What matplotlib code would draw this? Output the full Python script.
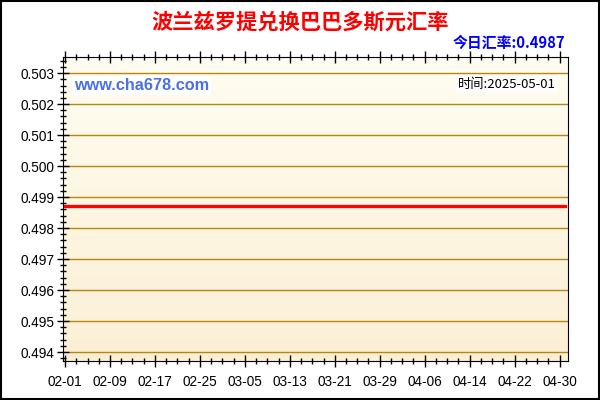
import numpy as np
import matplotlib
matplotlib.use("Agg")
import matplotlib.pyplot as plt
import matplotlib.dates as mdates
from matplotlib.ticker import MultipleLocator
from matplotlib.colors import LinearSegmentedColormap
import datetime as dt

plt.rcParams['font.family'] = ['Liberation Sans', 'Noto Sans CJK SC', 'DejaVu Sans']

# data
dates = ['2025-02-01', '2025-05-01']
rates = [0.4987, 0.4987]
tick_dates = ['2025-02-01', '2025-02-09', '2025-02-17', '2025-02-25', '2025-03-05', '2025-03-13',
              '2025-03-21', '2025-03-29', '2025-04-06', '2025-04-14', '2025-04-22', '2025-04-30']
y_ticks = [0.494, 0.495, 0.496, 0.497, 0.498, 0.499, 0.500, 0.501, 0.502, 0.503]
title = '波兰兹罗提兑换巴巴多斯元汇率'
today_rate = '今日汇率:0.4987'
stamp = '时间:2025-05-01'

to_d = lambda s: dt.datetime.strptime(s, '%Y-%m-%d')
x = [to_d(s) for s in dates]

fig = plt.figure(figsize=(6, 4), dpi=100)
ax = fig.add_axes([63/600, 1 - 361/400, (568 - 63)/600, (361 - 57)/400])

x0 = mdates.date2num(to_d('2025-02-01')) - 0.36
x1 = mdates.date2num(to_d('2025-05-01')) + 0.5
y0, y1 = 0.49371, 0.50352

# background gradient, light at the top, warmer at the bottom
grad = np.linspace(0, 1, 256).reshape(-1, 1)
cmap = LinearSegmentedColormap.from_list('bg', ['#fffdf2', '#fcefd5'])
ax.imshow(grad, extent=[x0, x1, y0, y1], origin='upper', aspect='auto', cmap=cmap, zorder=0)

for yv in y_ticks:
    ax.axhline(yv, color='#b8860b', lw=1, zorder=1)

ax.plot(x, rates, color='#ff0000', lw=2.4, zorder=3)

ax.set_xlim(x0, x1)
ax.set_ylim(y0, y1)

ax.set_yticks(y_ticks)
ax.set_yticklabels([f'{v:.3f}' for v in y_ticks])
ax.yaxis.set_minor_locator(MultipleLocator(0.0002))
ax.set_xticks([mdates.date2num(to_d(s)) for s in tick_dates])
ax.set_xticklabels([s[5:] for s in tick_dates])
ax.xaxis.set_minor_locator(MultipleLocator(2))

ax.tick_params(axis='both', which='major', direction='inout', length=8, width=1,
               labelsize=9.8, colors='black', top=True)
ax.tick_params(axis='both', which='minor', direction='inout', length=5, width=1, top=True)
ax.tick_params(axis='y', pad=2)
ax.tick_params(axis='x', pad=6)
for sp in ax.spines.values():
    sp.set_color('black')

fig.text(0.5, 1 - 22/400, title, color='#ff0000', fontsize=15.3, fontweight='bold',
         ha='center', va='center', family=['Noto Sans CJK SC', 'DejaVu Sans'])
fig.text(565/600, 1 - 43/400, today_rate, color='#0000ff', fontsize=10.7, fontweight='bold',
         ha='right', va='center', family=['Noto Sans CJK SC', 'DejaVu Sans'])

ax.text(0.022, 0.905, 'www.cha678.com', transform=ax.transAxes, color='#4a6fe8',
        fontsize=11.7, fontweight='bold', ha='left', va='center', zorder=5,
        bbox=dict(facecolor='white', edgecolor='none', pad=1.5))
ax.text(0.975, 0.91, stamp, transform=ax.transAxes, color='black', fontsize=9.5,
        ha='right', va='center', zorder=5, family=['Noto Sans CJK SC', 'DejaVu Sans'],
        bbox=dict(facecolor='white', edgecolor='none', pad=1))

fig.patches.append(plt.Rectangle((0.002, 0.003), 0.996, 0.994, transform=fig.transFigure,
                                 fill=False, edgecolor='black', lw=1.5))

fig.savefig('out.png', dpi=100)
